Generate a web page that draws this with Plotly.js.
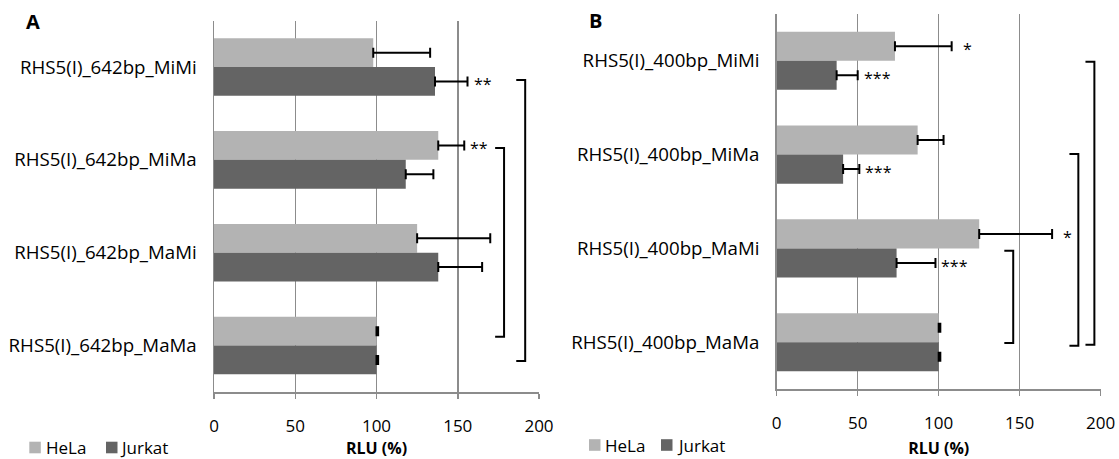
<!DOCTYPE html>
<html><head><meta charset="utf-8">
<script src="https://cdn.plot.ly/plotly-3.0.1.min.js"></script>
<style>html,body{margin:0;padding:0;background:#fff}#chart{width:1119px;height:459px}</style>
</head><body><div id="chart"></div>
<script>
// ---- data ----
const categoriesA = ['RHS5(I)_642bp_MiMi','RHS5(I)_642bp_MiMa','RHS5(I)_642bp_MaMi','RHS5(I)_642bp_MaMa'];
const categoriesB = ['RHS5(I)_400bp_MiMi','RHS5(I)_400bp_MiMa','RHS5(I)_400bp_MaMi','RHS5(I)_400bp_MaMa'];
const seriesNames = ['HeLa','Jurkat'];
const helaA = [98, 138, 125, 100];
const helaAErr = [35, 16, 45, 1];
const jurkatA = [136, 118, 138, 100];
const jurkatAErr = [20, 17, 27, 1];
const helaB = [73, 87, 125, 100];
const helaBErr = [35, 16, 45, 1];
const jurkatB = [37, 41, 74, 100];
const jurkatBErr = [13, 10, 24, 1];
const errMinus = [0, 0, 0, 0];
const starsHelaA = ['', '**', '', ''];
const starsJurkatA = ['**', '', '', ''];
const starsHelaB = ['*', '', '*', ''];
const starsJurkatB = ['***', '***', '***', ''];
const xTicks = [0, 50, 100, 150, 200];
// significance brackets: [top category position, bottom category position, x value]
const bracketsA = [[0.873, 2.906, 178.5], [0.14, 3.165, 191.5]];
const bracketsB = [[2.026, 3.009, 146], [0.993, 3.038, 186.2], [0.01, 3.027, 196.1]];

// ---- style ----
const FONT = 'Open Sans, sans-serif';
const COLORS = ['#b3b3b3', '#646464'];
const GRID = '#8c8c8c';
const BARGAP = 0.38;
const half = (1 - BARGAP) / 4; // centre offset of each bar in a group

function errBar(arr) {
  return {type: 'data', array: arr, arrayminus: errMinus, symmetric: false,
          color: '#000', thickness: 2, width: 5};
}
function barTrace(name, x, y, err, color, xa, ya) {
  return {type: 'bar', orientation: 'h', name: name, x: x, y: y,
          xaxis: xa, yaxis: ya, showlegend: false,
          marker: {color: color, line: {width: 0}},
          error_x: errBar(err), hoverinfo: 'x+y'};
}
const data = [
  barTrace(seriesNames[0], helaA, categoriesA, helaAErr, COLORS[0], 'x', 'y'),
  barTrace(seriesNames[1], jurkatA, categoriesA, jurkatAErr, COLORS[1], 'x', 'y'),
  barTrace(seriesNames[0], helaB, categoriesB, helaBErr, COLORS[0], 'x2', 'y2'),
  barTrace(seriesNames[1], jurkatB, categoriesB, jurkatBErr, COLORS[1], 'x2', 'y2')
];

const annotations = [];
const shapes = [];
function addStars(stars, vals, errs, off, xr, yr) {
  stars.forEach((s, i) => {
    if (!s) return;
    annotations.push({xref: xr, yref: yr, x: vals[i] + errs[i], y: i + off,
      text: s, showarrow: false, xanchor: 'left', yanchor: 'middle',
      xshift: s.length === 1 ? 9 : 4, yshift: -3,
      font: {family: FONT, size: 16, color: '#000'}});
  });
}
addStars(starsHelaA, helaA, helaAErr, -half, 'x', 'y');
addStars(starsJurkatA, jurkatA, jurkatAErr, half, 'x', 'y');
addStars(starsHelaB, helaB, helaBErr, -half, 'x2', 'y2');
addStars(starsJurkatB, jurkatB, jurkatBErr, half, 'x2', 'y2');
annotations.push({xref: 'paper', yref: 'paper', x: 24/1119, y: 1 - 22/459, text: '<b>A</b>',
  showarrow: false, xanchor: 'left', yanchor: 'middle', font: {family: FONT, size: 20, color: '#000'}});
annotations.push({xref: 'paper', yref: 'paper', x: 587/1119, y: 1 - 21/459, text: '<b>B</b>',
  showarrow: false, xanchor: 'left', yanchor: 'middle', font: {family: FONT, size: 20, color: '#000'}});

const ARM = 5.5;
function addBrackets(list, xr, yr) {
  list.forEach(b => {
    const [t, bt, x] = b;
    shapes.push({type: 'path', xref: xr, yref: yr,
      path: `M${x - ARM},${t} L${x},${t} L${x},${bt} L${x - ARM},${bt}`,
      line: {color: '#000', width: 2}});
  });
}
addBrackets(bracketsA, 'x', 'y');
addBrackets(bracketsB, 'x2', 'y2');

// legend (one per panel): [square left px, text left px] for each series, centre y px
function addLegend(items, cy) {
  items.forEach((it, k) => {
    const [sq, tx] = it;
    shapes.push({type: 'rect', xref: 'paper', yref: 'paper',
      x0: sq/1119, x1: (sq + 11.5)/1119, y0: 1 - (cy + 5.8)/459, y1: 1 - (cy - 5.8)/459,
      fillcolor: COLORS[k], line: {width: 0}});
    annotations.push({xref: 'paper', yref: 'paper', x: (tx - 1)/1119, y: 1 - cy/459,
      text: seriesNames[k], showarrow: false, xanchor: 'left', yanchor: 'middle',
      font: {family: FONT, size: 17, color: '#000'}});
  });
}
addLegend([[29.3, 45], [106, 119]], 447.5);
addLegend([[589, 604], [661, 676]], 445);

function xAxis(domain, anchor) {
  return {domain: domain, anchor: anchor, range: [0, 200], tickvals: xTicks,
    showgrid: true, gridcolor: GRID, gridwidth: 1.5, zeroline: false,
    showline: true, linecolor: GRID, linewidth: 1.5,
    ticks: 'outside', ticklen: 5, tickcolor: GRID, tickwidth: 1.5,
    ticklabelstandoff: 13,
    tickfont: {family: FONT, size: 17, color: '#000'},
    title: {text: 'RLU (%)', font: {family: FONT, size: 16, color: '#000', weight: 'bold'}, standoff: 14},
    fixedrange: true};
}
function yAxis(domain, anchor, cats) {
  return {domain: domain, anchor: anchor, type: 'category', categoryorder: 'array', categoryarray: cats,
    range: [3.5, -0.5], showgrid: false, zeroline: false,
    showline: true, linecolor: GRID, linewidth: 1.5, ticks: '',
    ticklabelstandoff: 12,
    tickfont: {family: FONT, size: 18.7, color: '#000'}, fixedrange: true};
}

const layout = {
  width: 1119, height: 459,
  margin: {l: 0, r: 0, t: 0, b: 0},
  paper_bgcolor: '#fff', plot_bgcolor: '#fff',
  barmode: 'group', bargap: BARGAP, bargroupgap: 0,
  font: {family: FONT, color: '#000'},
  xaxis: xAxis([214/1119, 539/1119], 'y'),
  yaxis: yAxis([1 - 392/459, 1 - 20.6/459], 'x', categoriesA),
  xaxis2: xAxis([776.7/1119, 1100.7/1119], 'y2'),
  yaxis2: yAxis([1 - 389.2/459, 1 - 13.8/459], 'x2', categoriesB),
  annotations: annotations,
  shapes: shapes,
  showlegend: false
};

Plotly.newPlot('chart', data, layout, {displayModeBar: false, staticPlot: true});
</script>
</body></html>
